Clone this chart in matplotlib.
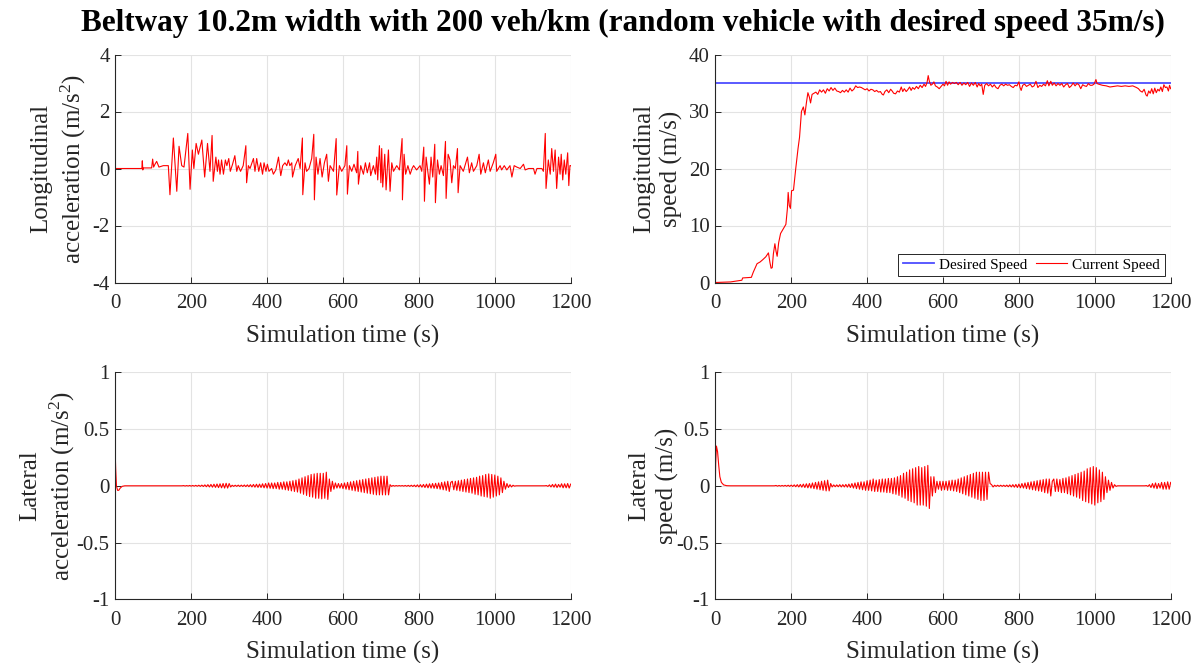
import numpy as np
import matplotlib
matplotlib.use("Agg")
import matplotlib.pyplot as plt

plt.rcParams['font.family'] = ['Liberation Serif', 'DejaVu Serif']
plt.rcParams['mathtext.fontset'] = 'custom'
plt.rcParams['mathtext.rm'] = 'Liberation Serif'
plt.rcParams['mathtext.it'] = 'Liberation Serif:italic'
plt.rcParams['mathtext.bf'] = 'Liberation Serif:bold'

TITLE = "Beltway 10.2m width with 200 veh/km (random vehicle with desired speed 35m/s)"
XLABEL = "Simulation time (s)"
X_TICKS = [0, 200, 400, 600, 800, 1000, 1200]

# ---------------- Longitudinal acceleration (m/s^2) ----------------
lon_acc_t = [0, 70, 71.2, 72.5, 73.8, 95.8, 98.4, 101, 104.6, 109, 115, 126.5, 139.7, 144, 153, 162, 168,
             175, 181, 191, 197, 203, 207, 213, 219, 228, 235.5, 243, 249.5, 255, 258, 265, 269, 272,
             276, 280, 285, 290, 294, 299, 303, 309, 315, 320, 324, 330, 337, 344, 346, 350.6, 355,
             364, 368, 372.6, 378, 383, 388, 392, 397, 400.7, 405, 412, 416.5, 423, 430, 436, 441,
             447, 452, 456, 460, 465, 467, 474, 482, 487, 493, 494, 500, 504, 510.5, 517.5, 523,
             524.6, 529, 534, 539.5, 545, 551, 557, 561.5, 566, 575, 582, 583.5, 590.5, 596.6, 605,
             610, 611.6, 617, 623, 629, 636, 639, 640.6, 646.7, 653.8, 659, 664, 670, 673, 680,
             685.4, 688.9, 691.5, 696, 699.9, 702, 704.7, 710, 713.5, 719.7, 724, 728.5, 733, 741.6,
             748.7, 755.7, 756.6, 761, 765, 771, 777, 782, 786, 794, 803, 807.5, 812.8, 814.6, 819,
             822.5, 827.7, 832, 836.5, 841.8, 843.5, 849, 854, 858.5, 864.6, 870, 871.7, 877, 882,
             886.6, 891, 896, 901.6, 903.3, 908.6, 917, 928, 933, 939, 943.7, 952.5, 958.7, 963,
             970, 975, 983, 987.7, 996, 1002.6, 1005, 1014, 1018, 1025, 1031.6, 1040, 1045, 1051,
             1058, 1067, 1075.6, 1080, 1089, 1102, 1106, 1111, 1124, 1128, 1133, 1135, 1141, 1146,
             1150, 1154.6, 1159, 1163, 1168, 1172, 1175, 1179, 1183, 1187, 1192, 1195, 1198, 1200]
lon_acc_v = [0, 0, 0.27, -0.05, 0.02, 0.02, 0.33, 0.05, 0.15, 0.25, 0.05, 0.1, 0.1, -0.92, 1.07, -0.8, 0.78,
             0.1, 0.05, 1.23, -0.73, 0.65, 0.0, 0.88, 0.5, 1.0, -0.3, 0.88, -0.1, 1.16, -0.45, 0.4, -0.1, 0.3,
             -0.2, 0.3, -0.2, 0.3, 0.1, 0.35, -0.1, 0.15, 0.45, -0.1, 0.1, -0.1, 0.1, 0.8, -0.5, 0.1, 0.0,
             0.35, -0.1, 0.35, -0.1, 0.2, -0.2, 0.2, -0.1, 0.15, -0.1, 0.0, -0.2, -0.05, 0.4, -0.25, 0.1,
             0.2, 0.1, 0.3, 0.1, 0.2, -0.3, 0.1, 0.35, 0.0, 1.07, -0.92, 0.2, -0.1, 0.0, 0.35, 1.2,
             -1.1, 0.4, -0.2, 0.35, -0.3, 0.2, 0.5, -0.45, 0.1, -0.1, 1.05, -0.93, 0.1, -0.1, 0.1,
             0.8, -0.9, 0.1, -0.1, 0.15, -0.15, 0.6, -0.55, 0.1, -0.2, 0.2, -0.15, 0.2, -0.25, 0.1,
             -0.2, 0.4, -0.4, 0.8, -0.5, 0.7, -0.65, 0.5, -0.75, 0.65, -0.8, 0.2, -0.1, 0.1,
             -0.05, 1.05, -1.1, 0.5, -0.2, 0.1, -0.2, 0.0, 0.1, -0.05, 0.1, -0.1, 0.75, -1.15, 0.4,
             0.0, -0.55, 0.4, -0.3, 0.85, -1.2, 0.3, -0.2, 0.1, -0.25, 0.95, -1.05, 0.5, 0.3,
             -0.5, 0.1, 0.0, 0.7, -0.85, 0.1, -0.1, 0.4, -0.15, 0.2, -0.1, 0.1, 0.5, -0.2,
             0.2, -0.15, 0.3, -0.1, 0.2, 0.5, -0.1, 0.1, -0.05, 0.1, -0.05, 0.1, -0.3, 0.1,
             0.05, 0.0, 0.15, -0.05, 0.0, 0.0, -0.2, 0.0, 0.0, -0.1, 1.23, -0.7, 0.3, -0.2,
             0.7, -0.1, 0.65, -0.7, 0.4, -0.2, 0.5, -0.4, 0.3, -0.2, 0.55, -0.6, 0.1, 0.1]

# ---------------- Longitudinal speed (m/s) ----------------
desired_speed = 35
lon_spd_t = [0, 40, 70, 72, 95, 100, 110, 118, 125, 133, 140, 144, 147, 150, 153, 157, 160, 163, 167, 172,
             180, 186, 190, 192, 195, 198, 201, 206, 212, 218, 222, 227, 232, 236, 240, 244, 248, 251,
             255, 260, 265, 270, 275, 280, 285, 290, 295, 300, 305, 310, 315, 320, 325, 330, 335, 340,
             345, 350, 355, 360, 365, 370, 375, 380, 385, 390, 395, 400, 405, 410, 415, 420, 425, 430,
             435, 440, 443, 447, 452, 457, 462, 466, 470, 475, 480, 485, 490, 494, 498, 503, 507, 512,
             516, 520, 525, 530, 535, 540, 545, 550, 554, 558, 561, 564, 568, 572, 576, 580, 585, 590,
             595, 600, 604, 608, 612, 616, 620, 625, 630, 635, 640, 645, 650, 655, 660, 665, 670, 675,
             680, 685, 690, 694, 698, 702, 706, 710, 715, 720, 725, 730, 735, 740, 745, 750, 755, 760,
             765, 770, 775, 780, 785, 790, 795, 800, 803, 806, 810, 815, 820, 825, 830, 835, 840, 845,
             850, 855, 860, 865, 870, 875, 879, 884, 888, 893, 898, 903, 908, 913, 918, 923, 928, 933,
             938, 943, 948, 953, 958, 963, 968, 973, 978, 983, 988, 993, 998, 1003, 1006, 1010, 1015,
             1020, 1030, 1040, 1050, 1060, 1070, 1080, 1090, 1100, 1110, 1115, 1120, 1125, 1130, 1135,
             1138, 1142, 1146, 1150, 1154, 1158, 1162, 1166, 1170, 1174, 1178, 1182, 1186, 1190, 1194,
             1197, 1200]
lon_spd_v = [0, 0.1, 0.4, 0.8, 0.9, 1.8, 3.3, 3.6, 4.0, 4.5, 5.2, 3.5, 2.5, 2.6, 5.0, 6.8, 5.5, 4.6, 7.0, 8.6,
             9.5, 10.2, 13, 15.8, 13.5, 13.0, 16.1, 16.2, 20, 23.5, 25.5, 30, 30.8, 29.4, 31.5, 33.3, 32.5, 31.5,
             33.0, 33.2, 33.4, 33.0, 33.8, 33.4, 33.8, 33.2, 34.0, 33.6, 34.2, 33.7, 34.1, 33.6, 33.5, 33.3, 33.7, 33.4,
             33.8, 33.4, 34.1, 33.6, 33.9, 34.5, 34.2, 34.3, 34.2, 34.0, 33.8, 34.0, 33.6, 33.9, 33.8, 33.5, 33.7, 33.4,
             33.5, 33.0, 32.9, 33.5, 33.8, 33.3, 33.9, 33.6, 33.2, 33.1, 33.6, 33.4, 34.3, 33.5, 34.0, 33.5, 33.8, 34.3,
             33.7, 34.2, 33.9, 34.4, 34.0, 34.6, 34.2, 34.8, 34.4, 35.1, 36.3, 35.3, 34.6, 34.8, 35.2, 34.5, 34.3, 34.0,
             34.4, 34.8, 34.5, 35.3, 34.6, 35.2, 34.8, 35.1, 34.9, 35.1, 34.7, 35.1, 34.6, 35.0, 34.7, 35.1, 34.4, 35.0,
             34.6, 35.1, 34.3, 34.9, 34.5, 34.8, 33.0, 34.6, 34.9, 34.5, 34.8, 34.3, 34.7, 34.2, 34.0, 34.6, 34.8, 34.5,
             34.8, 34.6, 34.7, 34.4, 34.2, 34.6, 34.5, 35.2, 34.2, 33.7, 34.6, 34.8, 34.4, 34.6, 34.8, 34.3, 34.5, 35.3,
             34.2, 34.6, 34.4, 34.8, 34.5, 35.4, 34.5, 35.3, 34.6, 35.0, 34.5, 34.9, 34.6, 34.9, 34.3, 34.7, 34.9, 34.2,
             34.5, 35.0, 34.5, 34.9, 34.7, 34.0, 34.7, 34.5, 34.4, 34.9, 34.6, 34.6, 34.8, 35.6, 34.9, 34.8, 34.7,
             34.6, 34.5, 34.3, 34.4, 34.5, 34.4, 34.5, 34.4, 34.5, 34.2, 34.0, 33.6, 33.4, 33.9, 32.9,
             32.7, 33.6, 33.2, 34.0, 33.1, 34.1, 33.3, 33.9, 33.6, 34.3, 33.5, 34.7, 34.2, 34.3, 33.6,
             34.6, 34.0]

# ---------------- Lateral acceleration (m/s^2) ----------------
lat_acc_head_t = [0, 1, 3, 6, 9, 13, 18, 25, 36]
lat_acc_head_v = [0.26, 0.15, 0.0, -0.04, -0.04, -0.02, -0.005, 0, 0]
lat_acc_grid_t = np.arange(40, 1201, 4)  # sample times of the values below
lat_acc_v = [0, 0, 0, 0, 0,  0, 0, 0, 0, 0,  0, 0, 0, 0, 0,  0, 0, 0, 0, 0,  0, 0, 0, 0, 0,  0, 0, 0, 0, 0,
             0, 0, 0, 0, 0,
             .002, -.002, .002, -.002, .003,
             -.003, .003, -.003, .004, -.004,
             .005, -.005, .006, -.006, .008,
             -.008, .01, -.01, .012, -.012,
             .014, -.014, .016, -.016, .018,
             -.018, .02, -.02, .022, -.02,
             .02, -.01, .005, -.005, .005,
             -.005, .006, -.006, .006, -.006,
             .007, -.007, .008, -.008, .01,
             -.01, .012, -.012, .014, -.014,
             .015, -.015, .018, -.018, .02,
             -.02, .025, -.022, .025, -.025,
             .025, -.025, .03, -.03, .03,
             -.03, .035, -.035, .035, -.04,
             .04, -.045, .045, -.05, .05,
             -.055, .06, -.065, .07, -.075,
             .08, -.085, .09, -.095, .1,
             -.1, .105, -.11, .11, -.11,
             .11, -.115, .11, -.11, .12,
             -.12, .06, -.05, .04, -.03,
             .025, -.02, .02, -.02, .02,
             -.025, .025, -.03, .03, -.035,
             .035, -.04, .04, -.045, .045,
             -.05, .05, -.055, .055, -.06,
             .06, -.065, .065, -.07, .07,
             -.075, .075, -.08, .08, -.08,
             .085, -.08, .085, -.08, .085,
             -.08, .01, -.005, .003, -.003,
             .002, -.002, .002, -.002, .002,
             -.003, .003, -.004, .004, -.005,
             .005, -.006, .006, -.008, .008,
             -.01, .01, -.012, .012, -.015,
             .015, -.018, .018, -.02, .02,
             -.022, .022, -.025, .025, -.03,
             .03, -.035, .035, -.04, .04,
             -.05, .03, .04, -.035, .04,
             -.04, .045, -.045, .05, -.05,
             .055, -.055, .06, -.06, .065,
             -.065, .07, -.075, .075, -.08,
             .085, -.09, .09, -.095, .1,
             -.1, .105, -.11, .1, -.1,
             .095, -.09, .085, -.08, .07,
             -.06, .04, -.03, .02, -.015,
             .01, -.01, .005, -.003, 0,
             0, 0, 0, 0, 0,  0, 0, 0, 0, 0,  0, 0, 0, 0, 0,  0, 0, 0, 0, .002,
             -.005, .008, -.01, .012, -.012,
             .015, -.015, .012, -.012, .018,
             -.018, .018, -.018, .02, -.02,
             .015]

# ---------------- Lateral speed (m/s) ----------------
lat_spd_head_t = [0, 1, 3, 6, 9, 12, 16, 22, 30, 36]
lat_spd_head_v = [0, 0.2, 0.35, 0.3, 0.18, 0.08, 0.03, 0.008, 0.001, 0]
lat_spd_grid_t = np.arange(40, 1201, 4)  # sample times of the values below
lat_spd_v = [0, 0, 0, 0, 0,  0, 0, 0, 0, 0,  0, 0, 0, 0, 0,  0, 0, 0, 0, 0,  0, 0, 0, 0, 0,  0, 0, 0, 0, 0,
             .003, -.003, .003, -.003, .003,
             -.003, .004, -.004, .005, -.005,
             .006, -.006, .008, -.008, .01,
             -.01, .012, -.012, .015, -.015,
             .018, -.018, .02, -.02, .025,
             -.025, .03, -.03, .035, -.035,
             .04, -.04, .045, -.045, .05,
             -.045, .02, -.01, .008, -.008,
             .008, -.008, .01, -.01, .01,
             -.01, .012, -.012, .015, -.015,
             .02, -.02, .025, -.025, .03,
             -.03, .035, -.035, .035, -.04,
             .045, -.04, .05, -.045, .06,
             -.05, .05, -.05, .055, -.055,
             .06, -.055, .06, -.06, .065,
             -.06, .065, -.07, .07, -.075,
             .08, -.085, .09, -.1, .11,
             -.11, .12, -.13, .14, -.14,
             .15, -.15, .16, -.17, .17,
             -.17, .16, -.17, .17, -.18,
             .18, -.2, .08, -.09, .08,
             -.06, .04, -.03, .04, -.04,
             .04, -.035, .04, -.04, .045,
             -.04, .05, -.045, .05, -.05,
             .06, -.06, .07, -.07, .08,
             -.08, .09, -.09, .1, -.1,
             .11, -.11, .12, -.12, .12,
             -.13, .12, -.13, .12, -.12,
             .12, .02, .01, -.01, .005,
             -.005, .005, -.005, .005, -.005,
             .005, -.006, .006, -.008, .008,
             -.01, .01, -.012, .012, -.015,
             .015, -.018, .02, -.02, .025,
             -.025, .03, -.03, .035, -.035,
             .04, -.04, .045, -.045, .05,
             -.05, .055, -.06, .06, -.065,
             .06, -.09, .04, .06, -.05,
             .06, -.05, .055, -.06, .065,
             -.06, .07, -.07, .08, -.08,
             .09, -.09, .1, -.1, .11,
             -.11, .12, -.13, .13, -.14,
             .15, -.15, .16, -.16, .17,
             -.17, .16, -.15, .14, -.14,
             .12, -.12, .08, -.06, .05,
             -.04, .03, -.02, .01, -.005,
             0, 0, 0, 0, 0,  0, 0, 0, 0, 0,  0, 0, 0, 0, 0,  0, 0, 0, 0, .002,
             -.005, .01, -.015, .02, -.02,
             .025, -.025, .02, -.02, .03,
             -.03, .03, -.03, .035, -.03,
             .03]

RED = '#ff0000'
BLUE = '#4d4dff'
DARK = '#262626'
GRIDC = '#e3e3e3'

fig = plt.figure(figsize=(12, 6.63), dpi=100)
W, H = 1200, 663


def make_ax(l, t, r, b):
    return fig.add_axes([l / W, 1 - b / H, (r - l) / W, (b - t) / H])


ax_tl = make_ax(115.3, 54.5, 570.7, 282.5)
ax_tr = make_ax(715.3, 54.5, 1170.7, 282.5)
ax_bl = make_ax(115.3, 372.3, 570.7, 599.3)
ax_br = make_ax(715.3, 372.3, 1170.7, 599.3)


def style(ax, yticks, ylabel, label_x):
    ax.set_xlim(0, 1200)
    ax.set_ylim(yticks[0], yticks[-1])
    ax.set_xticks(X_TICKS)
    ax.set_yticks(yticks)
    ax.set_yticklabels([('%g' % v) for v in yticks])
    ax.grid(True, color=GRIDC, linewidth=0.8)
    ax.set_axisbelow(True)
    for s in ['top', 'right']:
        ax.spines[s].set_visible(False)
    for s in ['left', 'bottom']:
        ax.spines[s].set_color(DARK)
        ax.spines[s].set_linewidth(0.8)
    ax.tick_params(direction='in', length=4, width=0.7, colors=DARK, labelsize=15)
    ax.tick_params(axis='x', pad=8.5)
    ax.tick_params(axis='y', pad=4)
    ax.set_xlabel(XLABEL, fontsize=18, color=DARK, labelpad=8)
    ax.set_ylabel(ylabel, fontsize=18, color=DARK, linespacing=1.3)
    ax.yaxis.label.set_va('center')
    ax.yaxis.set_label_coords(label_x, 0.5)


ax_tl.plot(lon_acc_t, lon_acc_v, color=RED, linewidth=0.8)
style(ax_tl, [-4, -2, 0, 2, 4], "Longitudinal\nacceleration (m/s$^{2}$)", -0.124)

ax_tr.axhline(desired_speed, color=BLUE, linewidth=1.3, label='Desired Speed')
ax_tr.plot(lon_spd_t, lon_spd_v, color=RED, linewidth=0.8, label='Current Speed')
style(ax_tr, [0, 10, 20, 30, 40], "Longitudinal\nspeed (m/s)", -0.126)
leg = ax_tr.legend(loc='lower right', ncol=2, fontsize=11, frameon=True, fancybox=False,
                   edgecolor=DARK, framealpha=1, borderpad=0.3, handlelength=2.0,
                   columnspacing=0.6, handletextpad=0.35, borderaxespad=0.4)
leg.get_frame().set_linewidth(0.7)

ax_bl.plot(np.concatenate([lat_acc_head_t, lat_acc_grid_t]),
           np.concatenate([lat_acc_head_v, lat_acc_v]), color=RED, linewidth=0.8)
style(ax_bl, [-1, -0.5, 0, 0.5, 1], "Lateral\nacceleration (m/s$^{2}$)", -0.148)

ax_br.plot(np.concatenate([lat_spd_head_t, lat_spd_grid_t]),
           np.concatenate([lat_spd_head_v, lat_spd_v]), color=RED, linewidth=0.8)
style(ax_br, [-1, -0.5, 0, 0.5, 1], "Lateral\nspeed (m/s)", -0.136)

fig.text(0.519, 0.965, TITLE, ha='center', va='center', fontsize=22.5, fontweight='bold', color='black')

fig.savefig('out.png', dpi=100)
